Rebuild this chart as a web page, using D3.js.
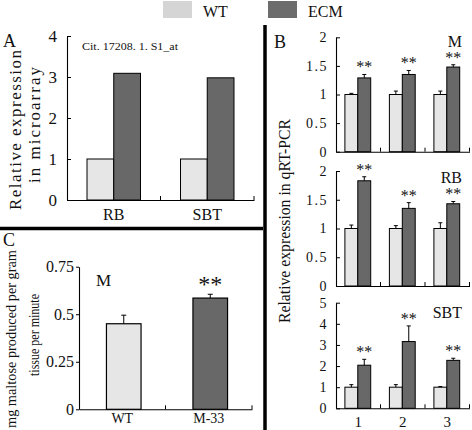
<!DOCTYPE html>
<html><head><meta charset="utf-8">
<script src="https://cdn.jsdelivr.net/npm/d3@7"></script>
<style>
body{margin:0;background:#fff}
svg{display:block}
text{font-family:"Liberation Serif","Times New Roman",serif;fill:#111}
</style>
</head><body>
<svg id="c" width="472" height="430"></svg>
<script>
// ---------- DATA ----------
const seriesKeys = ["WT", "ECM"];

// Panel A (microarray)
const aCategories = ["RB", "SBT"];
const aWT = [1.0, 1.0];
const aECM = [3.09, 2.98];
const aTicks = [0, 1, 2, 3, 4];
const aProbe = "Cit. 17208. 1. S1_at";

// Panel B (qRT-PCR), three tissues
const bGroups = ["1", "2", "3"];
const bTissues = ["M", "RB", "SBT"];
const bWT = [[1.0, 1.0, 1.0], [1.0, 1.0, 1.0], [1.0, 1.0, 1.0]];
const bWTErr = [[0.02, 0.06, 0.06], [0.06, 0.05, 0.10], [0.12, 0.12, 0.03]];
const bECM = [[1.29, 1.35, 1.48], [1.83, 1.35, 1.43], [2.04, 3.16, 2.27]];
const bECMErr = [[0.06, 0.07, 0.04], [0.07, 0.10, 0.04], [0.28, 0.74, 0.10]];
const bTicks = [[0, 0.5, 1, 1.5, 2], [0, 0.5, 1, 1.5, 2], [0, 1, 2, 3, 4, 5]];
const bMax = [2, 2, 5];

// Panel C (amylase activity)
const cCategories = ["WT", "M-33"];
const cValues = [0.45, 0.585];
const cErrors = [0.045, 0.02];
const cTicks = [0, 0.25, 0.5, 0.75];

// ---------- STYLE ----------
const FILL = {WT: "#e6e6e6", ECM: "#686868"};
const LEGEND_FILL = {WT: "#d5d5d5", ECM: "#6c6c6c"};

const svg = d3.select("#c");

function styleAxis(g, fs) {
  g.attr("font-family", null).attr("font-size", null);
  g.selectAll(".domain").attr("stroke", "#000").attr("stroke-width", 1.1);
  g.selectAll(".tick line").attr("stroke", "#000");
  g.selectAll("text").style("font-size", fs + "px").style("fill", "#111");
}
function yAxis(g, y, ticks, fs, inward, pad, spacing) {
  g.call(d3.axisLeft(y).tickValues(ticks).tickFormat(d => String(d))
    .tickSizeInner(inward ? -4 : 3).tickSizeOuter(0).tickPadding(pad));
  styleAxis(g, fs);
  if (spacing) g.selectAll("text").style("letter-spacing", spacing);
}
function xAxis(g, x, y0, fs, pad, showLabels) {
  g.attr("transform", `translate(0,${y0})`)
    .call(d3.axisBottom(x).tickSize(0).tickPadding(pad).tickSizeOuter(0));
  styleAxis(g, fs);
  if (!showLabels) g.selectAll("text").remove();
  g.selectAll("line.sep").data(x.domain()).join("line").attr("class", "sep")
    .attr("x1", d => x(d) + x.step()).attr("x2", d => x(d) + x.step())
    .attr("y1", 0).attr("y2", -4).attr("stroke", "#000");
}
function vLabel(x, yc, fs, len, txt, adjust) {
  svg.append("text")
    .attr("transform", `translate(${x},${yc}) rotate(-90)`)
    .attr("text-anchor", "middle").attr("dy", "0.35em")
    .attr("textLength", len).attr("lengthAdjust", adjust || "spacingAndGlyphs")
    .style("font-size", fs + "px").text(txt);
}
function errBar(g, cx, yTop, yErr, cap) {
  g.append("line").attr("x1", cx).attr("x2", cx).attr("y1", yTop).attr("y2", yErr)
    .attr("stroke", "#000").attr("stroke-width", 1);
  g.append("line").attr("x1", cx - cap / 2).attr("x2", cx + cap / 2).attr("y1", yErr).attr("y2", yErr)
    .attr("stroke", "#000").attr("stroke-width", 1);
}

// ---------- LEGEND ----------
const legendBoxX = {WT: 163, ECM: 268};
const lg = svg.append("g");
seriesKeys.forEach(k => {
  lg.append("rect").attr("x", legendBoxX[k]).attr("y", 1).attr("width", 29).attr("height", 17)
    .attr("fill", LEGEND_FILL[k]);
  lg.append("text").attr("x", legendBoxX[k] + 40).attr("y", 17)
    .style("font-size", "16px").text(k);
});

// ---------- DIVIDERS ----------
svg.append("line").attr("x1", 265).attr("x2", 265).attr("y1", 25).attr("y2", 430)
  .attr("stroke", "#000").attr("stroke-width", 3.5);
svg.append("line").attr("x1", 0).attr("x2", 263).attr("y1", 228.5).attr("y2", 228.5)
  .attr("stroke", "#000").attr("stroke-width", 3.5);

// ---------- PANEL LETTERS ----------
[["A", 3, 47], ["B", 274, 48], ["C", 3, 246]].forEach(([t, x, y]) =>
  svg.append("text").attr("x", x).attr("y", y).style("font-size", "18px").text(t));

// ---------- PANEL A ----------
{
  const g = svg.append("g");
  const y = d3.scaleLinear().domain([0, 4]).range([200, 36]);
  const x = d3.scaleBand().domain(aCategories).range([67, 254]);
  const bw = x.bandwidth();
  const x1 = d3.scaleBand().domain(seriesKeys).range([bw * 0.214, bw * 0.786]);
  const rows = aCategories.map((c, i) => ({c, WT: aWT[i], ECM: aECM[i]}));
  rows.forEach(r => seriesKeys.forEach(k => {
    g.append("rect").attr("x", x(r.c) + x1(k)).attr("width", x1.bandwidth())
      .attr("y", y(r[k])).attr("height", y(0) - y(r[k]))
      .attr("fill", FILL[k]).attr("stroke", "#000").attr("stroke-width", 1);
  }));
  yAxis(g.append("g").attr("transform", "translate(67,0)"), y, aTicks, 17, true, 10);
  xAxis(g.append("g"), x, 200, 16, 8.6, true);
  g.append("text").attr("x", 82).attr("y", 50).attr("textLength", 96)
    .attr("lengthAdjust", "spacingAndGlyphs").style("font-size", "11px").text(aProbe);
  vLabel(15, 130, 17, 160, "Relative  expression", "spacing");
  vLabel(34, 125, 17, 116, "in microarray", "spacing");
}

// ---------- PANEL B ----------
{
  const yRanges = [[151.7, 37.3], [286, 171], [408.3, 302.7]];
  const labelDy = [10, 12, 15];
  const x = d3.scaleBand().domain(bGroups).range([336, 469.5]);
  const bw = x.bandwidth();
  const x1 = d3.scaleBand().domain(seriesKeys).range([bw * 0.2, bw * 0.78]);
  bTissues.forEach((t, p) => {
    const g = svg.append("g");
    const y = d3.scaleLinear().domain([0, bMax[p]]).range(yRanges[p]);
    bGroups.forEach((grp, i) => {
      const vals = {WT: bWT[p][i], ECM: bECM[p][i]};
      const errs = {WT: bWTErr[p][i], ECM: bECMErr[p][i]};
      seriesKeys.forEach(k => {
        const bx = x(grp) + x1(k);
        g.append("rect").attr("x", bx).attr("width", x1.bandwidth())
          .attr("y", y(vals[k])).attr("height", y(0) - y(vals[k]))
          .attr("fill", FILL[k]).attr("stroke", "#000").attr("stroke-width", 1);
        errBar(g, bx + x1.bandwidth() / 2, y(vals[k]), y(vals[k] + errs[k]), 4);
      });
      const cx = x(grp) + x1("ECM") + x1.bandwidth() / 2;
      g.append("text").attr("x", cx).attr("y", y(vals.ECM + errs.ECM) - 10 + 8)
        .attr("text-anchor", "middle").style("font-size", "16px").text("**");
    });
    yAxis(g.append("g").attr("transform", "translate(336,0)"), y, bTicks[p], 14, true, 8, "1.5px");
    xAxis(g.append("g"), x, yRanges[p][0], 15, 7.7, p === 2);
    g.append("text").attr("x", 462).attr("y", yRanges[p][1] + labelDy[p])
      .attr("text-anchor", "end").style("font-size", "16px").text(t);
  });
  vLabel(284, 221, 16, 204, "Relative expression in qRT-PCR");
}

// ---------- PANEL C ----------
{
  const g = svg.append("g");
  const y = d3.scaleLinear().domain([0, 0.75]).range([409.3, 266.7]);
  const x = d3.scaleBand().domain(cCategories).range([79, 252]);
  const bw = x.bandwidth();
  const barW = bw * 0.4;
  cCategories.forEach((c, i) => {
    const bx = x(c) + (bw - barW) / 2 + 1.5;
    const k = seriesKeys[i];
    g.append("rect").attr("x", bx).attr("width", barW)
      .attr("y", y(cValues[i])).attr("height", y(0) - y(cValues[i]))
      .attr("fill", FILL[k]).attr("stroke", "#000").attr("stroke-width", 1.2);
    errBar(g, bx + barW / 2, y(cValues[i]), y(cValues[i] + cErrors[i]), 5);
  });
  yAxis(g.append("g").attr("transform", "translate(79,0)"), y, cTicks, 16, false, 2);
  xAxis(g.append("g"), x, 409.3, 14, 3.8, true);
  const mx = x("M-33") + bw / 2 + 1.5;
  g.append("text").attr("x", mx).attr("y", y(cValues[1] + cErrors[1]) - 14 + 12)
    .attr("text-anchor", "middle").style("font-size", "24px").text("**");
  g.append("text").attr("x", 103.5).attr("y", 286).attr("text-anchor", "middle")
    .style("font-size", "17px").text("M");
  vLabel(11, 339, 14, 178, "mg maltose produced per gram");
  vLabel(34, 335, 14, 82, "tissue per minute");
}
</script>
</body></html>
